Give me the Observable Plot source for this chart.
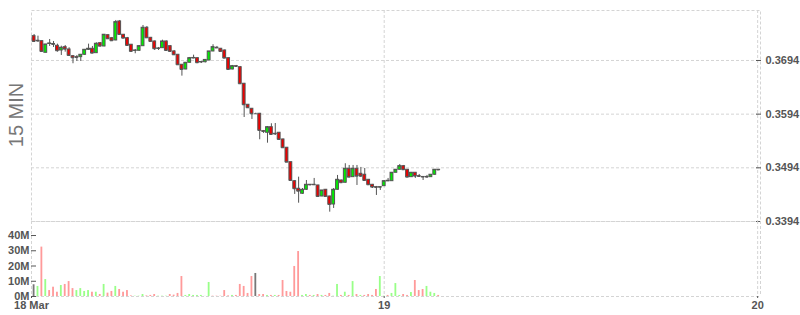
<!DOCTYPE html>
<html>
<head>
<meta charset="utf-8">
<script src="https://cdn.jsdelivr.net/npm/d3@7"></script>
<script src="https://cdn.jsdelivr.net/npm/@observablehq/plot@0.6"></script>
<style>
  html, body { margin: 0; padding: 0; background: #fff; }
  #wrap { position: relative; width: 800px; height: 315px; overflow: hidden; }
  #price, #volume { position: absolute; left: 0; }
  #price { top: 0; }
  #volume { top: 221px; }
  #label { position: absolute; left: 15.5px; top: 115px; transform: translate(-50%, -50%) rotate(-90deg);
           font: 20px "Liberation Sans", Arial, sans-serif; color: #777; white-space: nowrap; }
  svg { overflow: visible; }
</style>
</head>
<body>
<div id="wrap">
  <div id="price"></div>
  <div id="volume"></div>
  <div id="label">15 MIN</div>
</div>
<script>
// ---- data (15-minute candles, 18 Mar 01:30 onward) ----
const open = [0.37393,0.37300,0.37300,0.37083,0.37247,0.37247,0.37214,0.37126,0.37188,0.37145,
0.37020,0.37002,0.37002,0.37046,0.37139,0.37158,0.37076,0.37262,0.37201,0.37411,
0.37355,0.37313,0.37667,0.37419,0.37355,0.37233,0.37121,0.37121,0.37206,0.37549,
0.37362,0.37294,0.37158,0.37169,0.37294,0.37206,0.37108,0.37046,0.36860,0.36772,
0.36897,0.36983,0.36983,0.36908,0.36908,0.36940,0.37108,0.37177,0.37158,0.37126,
0.36983,0.36772,0.36834,0.36815,0.36506,0.36115,0.36040,0.35947,0.35947,0.35623,
0.35593,0.35697,0.35574,0.35593,0.35468,0.35314,0.35045,0.34691,0.34550,0.34457,
0.34531,0.34624,0.34621,0.34611,0.34406,0.34531,0.34406,0.34257,0.34531,0.34704,
0.34662,0.34922,0.34766,0.34922,0.34829,0.34811,0.34717,0.34624,0.34580,0.34574,
0.34598,0.34691,0.34691,0.34848,0.34904,0.34971,0.34904,0.34766,0.34848,0.34785,
0.34766,0.34766,0.34766,0.34811,0.34904];
const high = [0.37424,0.37393,0.37307,0.37238,0.37331,0.37294,0.37244,0.37206,0.37219,0.37177,
0.37033,0.37033,0.37052,0.37145,0.37244,0.37201,0.37270,0.37275,0.37424,0.37424,
0.37369,0.37685,0.37685,0.37424,0.37369,0.37238,0.37145,0.37219,0.37592,0.37573,
0.37369,0.37303,0.37182,0.37318,0.37303,0.37219,0.37126,0.37052,0.36865,0.36903,
0.36996,0.37039,0.36987,0.36921,0.36959,0.37108,0.37233,0.37201,0.37164,0.37135,
0.36987,0.36847,0.36847,0.36828,0.36512,0.36120,0.36046,0.35958,0.35953,0.35636,
0.35710,0.35761,0.35766,0.35599,0.35478,0.35319,0.35049,0.34704,0.34766,0.34555,
0.34704,0.34630,0.34742,0.34617,0.34518,0.34537,0.34412,0.34555,0.34798,0.34710,
0.35016,0.34984,0.34984,0.34984,0.34947,0.34928,0.34723,0.34630,0.34593,0.34583,
0.34704,0.34742,0.34853,0.34909,0.35002,0.34984,0.34909,0.34853,0.34853,0.34816,
0.34773,0.34798,0.34816,0.34909,0.34909];
const low = [0.37275,0.37275,0.37102,0.37080,0.37201,0.37182,0.37095,0.37033,0.37095,0.37028,
0.36879,0.36921,0.36921,0.37033,0.37126,0.37070,0.37070,0.37201,0.37195,0.37331,
0.37294,0.37307,0.37419,0.37350,0.37219,0.37108,0.37065,0.37108,0.37201,0.37359,
0.37288,0.37126,0.37126,0.37164,0.37121,0.37089,0.37033,0.36860,0.36648,0.36767,
0.36893,0.36972,0.36884,0.36884,0.36893,0.36934,0.37102,0.37164,0.37102,0.36977,
0.36772,0.36767,0.36810,0.36506,0.35878,0.36046,0.35841,0.35934,0.35463,0.35580,
0.35399,0.35556,0.35543,0.35463,0.35314,0.35040,0.34699,0.34444,0.34281,0.34444,
0.34518,0.34611,0.34611,0.34401,0.34401,0.34401,0.34114,0.34183,0.34524,0.34649,
0.34654,0.34760,0.34760,0.34611,0.34760,0.34699,0.34611,0.34555,0.34425,0.34518,
0.34593,0.34686,0.34686,0.34844,0.34900,0.34891,0.34760,0.34760,0.34742,0.34760,
0.34704,0.34742,0.34760,0.34798,0.34891];
const close = [0.37294,0.37307,0.37108,0.37238,0.37257,0.37238,0.37121,0.37177,0.37151,0.37033,
0.36990,0.36996,0.37046,0.37139,0.37158,0.37076,0.37251,0.37206,0.37419,0.37344,
0.37307,0.37654,0.37424,0.37355,0.37219,0.37108,0.37126,0.37206,0.37549,0.37362,
0.37294,0.37158,0.37164,0.37294,0.37126,0.37108,0.37046,0.36860,0.36772,0.36897,
0.36983,0.36987,0.36897,0.36912,0.36950,0.37108,0.37188,0.37173,0.37108,0.36983,
0.36772,0.36834,0.36828,0.36506,0.36115,0.36059,0.35947,0.35947,0.35636,0.35617,
0.35697,0.35561,0.35571,0.35468,0.35314,0.35045,0.34704,0.34550,0.34505,0.34531,
0.34624,0.34621,0.34624,0.34406,0.34518,0.34406,0.34257,0.34531,0.34717,0.34662,
0.34922,0.34766,0.34922,0.34785,0.34785,0.34704,0.34624,0.34580,0.34574,0.34580,
0.34691,0.34699,0.34848,0.34904,0.34971,0.34904,0.34766,0.34848,0.34785,0.34779,
0.34770,0.34770,0.34811,0.34904,0.34900];
// volume in millions, and bar colour as drawn (g = green, r = red, n = neutral grey)
const volume = [7.7,6.6,32.4,11.1,3.9,6.1,2.8,7.2,7.9,9.8,
5.2,3.9,5.2,3.3,3.9,2.8,2.8,1.3,7.9,2.2,
3.3,6.6,4.6,2.8,3.9,0.4,0.2,0.2,1.3,0.4,
0.7,1.3,0.2,0.2,0.2,1.3,0.9,2.0,13.1,0.7,
1.3,0.7,0.7,0.7,0.1,9.2,0.2,0.2,0.2,3.9,
0.4,0.7,0.7,7.9,6.6,2.0,13.1,15.1,1.3,1.3,
0.7,0.7,0.7,0.7,10.5,3.3,2.8,19.7,29.5,0.7,
1.3,0.7,0.7,1.3,0.7,0.7,2.0,0.2,7.9,0.7,
2.8,0.7,9.8,1.3,0.7,0.7,1.3,0.7,4.6,13.1,
0.2,0.7,2.0,8.5,0.7,1.3,0.7,2.6,10.5,3.9,
4.6,6.6,2.8,2.0,0.7];
const volumeDir = ["n","g","r","g","r","r","r","g","r","r",
"r","g","g","g","g","r","g","r","g","r",
"r","g","r","r","r","r","g","g","g","r",
"r","r","g","g","g","r","r","r","r","g",
"g","g","g","g","g","g","r","r","r","r",
"r","g","r","r","r","r","r","n","r","r",
"g","r","g","r","r","r","r","r","r","g",
"g","r","g","r","g","r","r","g","g","r",
"g","r","g","r","g","r","r","r","r","g",
"g","r","g","g","g","r","r","g","r","r",
"r","g","g","g","r"];
const startTime = Date.UTC(2019, 2, 18, 1, 30);
const stepMinutes = 15;
const priceTicks = [0.3394, 0.3494, 0.3594, 0.3694];
const volumeTicks = [0, 10e6, 20e6, 30e6, 40e6];
const volumeTickLabels = ["0M", "10M", "20M", "30M", "40M"];
const xDomain = [new Date(Date.UTC(2019, 2, 18, 1, 20)), new Date(Date.UTC(2019, 2, 20, 0, 11))];
const xTicks = [xDomain[0], new Date(Date.UTC(2019, 2, 19)), new Date(Date.UTC(2019, 2, 20))];
const xTickLabels = ["18 Mar", "19", "20"];

// ---- build table ----
const MIN = 60000;
const candles = open.map((o, i) => {
  const t = startTime + i * stepMinutes * MIN;
  return {
    t: new Date(t), tl: new Date(t - 5.5 * MIN), tr: new Date(t + 5.5 * MIN),
    vl: new Date(t - 3.5 * MIN), vr: new Date(t + 3.5 * MIN),
    open: o, high: high[i], low: low[i], close: close[i],
    vol: volume[i] * 1e6, dir: volumeDir[i]
  };
});

const gridStyle = {stroke: "#d4d4d4", strokeOpacity: 1, strokeDasharray: "3,2"};
const font = {fontFamily: "'Liberation Sans', Arial, sans-serif", fontSize: "11px", fontWeight: "bold", color: "#555", background: "transparent"};

const price = Plot.plot({
  width: 800, height: 222,
  marginLeft: 31, marginRight: 40, marginTop: 10, marginBottom: 1,
  style: font,
  x: {type: "utc", domain: xDomain, axis: null},
  y: {domain: [0.3394, 0.37871], axis: null},
  color: {type: "identity"},
  marks: [
    Plot.gridY(priceTicks, gridStyle),
    Plot.gridX(xTicks.slice(1), gridStyle),
    Plot.frame(gridStyle),
    Plot.axisY(priceTicks, {anchor: "right", tickSize: 5, dx: -5, tickPadding: 5, label: null, tickFormat: d => d.toFixed(4)}),
    Plot.ruleX(candles, {x: "t", y1: "low", y2: "high", stroke: "#555", strokeWidth: 1}),
    Plot.rect(candles, {x1: "tl", x2: "tr", y1: "open", y2: "close",
      fill: d => d.close >= d.open ? "#00ee00" : "#ee0000", stroke: "#555", strokeWidth: 1}),
    Plot.ruleY(candles, {x1: "tl", x2: "tr", y: "close", stroke: "#555", strokeWidth: 1})
  ]
});
document.getElementById("price").appendChild(price);

const volColor = {g: "#99ff88", r: "#ff9a9a", n: "#777777"};
const vol = Plot.plot({
  width: 800, height: 94,
  marginLeft: 31, marginRight: 40, marginTop: 0, marginBottom: 19,
  style: font,
  x: {type: "utc", domain: xDomain, axis: null},
  y: {domain: [0, 49.2e6], axis: null},
  color: {type: "identity"},
  marks: [
    Plot.gridX(xTicks, gridStyle),
    Plot.ruleX([xDomain[1]], gridStyle),
    Plot.ruleY([0], gridStyle),
    Plot.rectY(candles, {x1: "vl", x2: "vr", y1: 0, y2: "vol", fill: d => volColor[d.dir]}),
    Plot.axisY(volumeTicks, {anchor: "left", tickSize: 5, dx: 5, tickPadding: 2, label: null,
      tickFormat: d => volumeTickLabels[volumeTicks.indexOf(d)]}),
    Plot.axisX(xTicks, {anchor: "bottom", tickSize: 2, tickPadding: 3, label: null,
      tickFormat: d => xTickLabels[xTicks.findIndex(v => +v === +d)]})
  ]
});
document.getElementById("volume").appendChild(vol);
</script>
</body>
</html>
